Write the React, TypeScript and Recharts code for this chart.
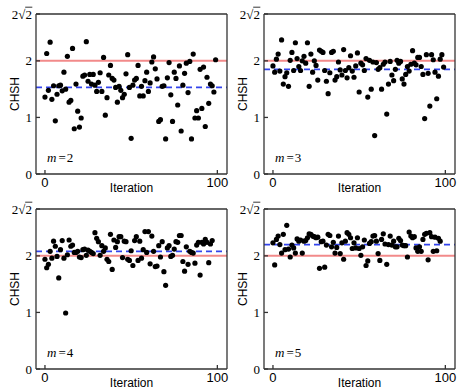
import React from "react"
import { ReferenceLine, Scatter, ScatterChart, XAxis, YAxis } from "recharts"

// CHSH value per iteration, one array per m
const chshM2 = [
  1.36, 2.13, 1.48, 2.33, 1.32, 1.56, 0.94, 1.41, 1.56, 1.57,
  1.47, 1.8, 1.5, 2.08, 1.27, 1.3, 2.22, 0.8, 1.59, 1.11,
  0.83, 0.99, 1.73, 1.75, 2.34, 1.64, 1.76, 1.59, 1.76, 1.57,
  1.46, 1.62, 1.79, 1.46, 2.06, 1.04, 1.35, 1.75, 1.92, 1.69,
  1.66, 1.53, 1.27, 1.55, 1.48, 1.35, 1.41, 1.77, 2.11, 1.53,
  0.63, 1.57, 1.66, 1.69, 1.92, 1.38, 1.55, 1.38, 1.65, 1.8,
  1.46, 1.61, 1.98, 2.07, 1.86, 1.68, 0.93, 0.96, 1.55, 1.56,
  0.62, 1.7, 1.97, 1.4, 0.93, 1.8, 1.69, 1.22, 1.91, 0.76,
  1.57, 1.78, 1.96, 1.44, 1.99, 0.62, 2.12, 0.99, 1.12, 0.99,
  1.85, 1.16, 1.89, 0.84, 1.71, 1.25, 1.59, 1.56, 1.45, 2.02,
]

const chshM3 = [
  1.91, 1.8, 2.03, 2.12, 1.82, 2.37, 1.59, 1.72, 1.79, 1.55,
  2.01, 2.15, 1.83, 2.32, 2.04, 1.9, 1.83, 2.0, 2.08, 1.96,
  2.32, 1.55, 2.12, 1.8, 2.0, 1.92, 1.66, 2.19, 2.17, 2.15,
  1.83, 1.64, 1.42, 1.79, 2.15, 2.17, 1.66, 1.72, 1.98, 1.84,
  1.75, 2.2, 1.83, 1.7, 1.88, 2.09, 1.82, 1.71, 1.91, 2.14,
  1.45, 1.96, 1.93, 1.83, 2.04, 1.36, 2.01, 1.5, 1.98, 0.68,
  1.97, 1.85, 1.88, 1.5, 1.94, 1.98, 1.06, 1.59, 1.99, 1.75,
  1.65, 1.85, 2.01, 1.96, 1.99, 1.68, 1.59, 1.76, 1.9, 1.82,
  1.94, 2.18, 1.96, 1.93, 2.06, 2.06, 1.9, 1.76, 0.98, 2.11,
  1.78, 1.2, 2.11, 2.02, 1.8, 1.33, 1.73, 2.03, 2.11, 1.89,
]

const chshM4 = [
  1.94, 1.79, 1.85, 2.08, 1.96, 2.26, 2.17, 1.99, 1.61, 2.11,
  2.27, 1.96, 0.99, 2.02, 2.28, 2.17, 2.19, 2.06, 2.06, 2.08,
  1.98, 1.97, 2.11, 2.12, 2.01, 2.1, 2.08, 2.06, 2.04, 2.41,
  2.31, 2.25, 2.01, 2.18, 2.08, 2.14, 1.94, 1.9, 2.38, 1.76,
  2.28, 2.15, 2.25, 2.34, 2.34, 1.97, 2.26, 2.25, 1.94, 1.92,
  2.09, 1.83, 2.27, 2.34, 1.92, 2.26, 1.96, 2.11, 2.43, 2.06,
  2.43, 1.86, 2.35, 2.08, 1.81, 1.82, 2.18, 1.98, 2.25, 1.72,
  1.48, 2.14, 2.18, 1.99, 2.01, 2.12, 2.25, 2.24, 2.36, 2.36,
  1.9, 1.73, 2.16, 1.85, 2.08, 2.06, 2.05, 1.87, 2.19, 2.24,
  1.66, 2.24, 2.21, 2.29, 2.24, 1.88, 2.21, 2.27,
]

const chshM5 = [
  2.23, 1.84, 2.29, 2.35, 2.2, 2.05, 2.38, 2.11, 2.54, 2.12,
  1.98, 2.19, 2.14, 2.05, 2.3, 2.26, 2.28, 2.05, 2.26, 2.27,
  2.32, 2.39, 2.38, 2.35, 2.34, 2.32, 2.33, 1.78, 2.25, 2.26,
  1.8, 2.19, 2.38, 2.36, 2.16, 2.24, 2.05, 2.15, 2.35, 2.04,
  2.23, 1.94, 2.26, 2.41, 2.38, 2.32, 2.13, 2.23, 2.14, 2.32,
  2.13, 2.01, 2.16, 2.28, 1.83, 1.91, 2.22, 2.25, 2.35, 2.36,
  2.26, 2.04, 1.92, 2.29, 2.39, 2.21, 1.85, 2.2, 2.35, 2.19,
  2.26, 2.16, 2.16, 2.31, 2.27, 2.19, 2.18, 2.18, 1.98, 2.42,
  2.35, 2.32, 2.34, 2.14, 2.08, 2.16, 2.08, 2.29, 2.38, 2.4,
  1.93, 2.41, 2.34, 2.08, 2.33, 2.09, 2.31, 2.26,
]

const series = [chshM2, chshM3, chshM4, chshM5]
const mValues = [2, 3, 4, 5]
const meanValues = [1.53, 1.85, 2.08, 2.2]
const classicalBound = 2
const quantumBound = 2 * Math.SQRT2
const xTicks = [0, 100]
const yTicks = [0, 1, 2, quantumBound]

const W = 231
const H = 193
const positions = [
  { left: 0, top: 0 },
  { left: 228, top: 0 },
  { left: 0, top: 195 },
  { left: 228, top: 195 },
]

const sans = "'Liberation Sans', Arial, sans-serif"
const serif = "'Liberation Serif', 'Times New Roman', serif"
const frame = { stroke: "#333", strokeWidth: 1.3 }

function YTick(props: any) {
  const { x, y, payload } = props
  const isRoot = Math.abs(payload.value - quantumBound) < 1e-6
  if (isRoot) {
    return (
      <g>
        <text x={x} y={y} textAnchor="end" dominantBaseline="central" fontFamily={serif} fontSize={13} fill="#000">
          2√2
        </text>
        <line x1={x - 6.8} x2={x + 0.3} y1={y - 6.8} y2={y - 6.8} stroke="#000" strokeWidth={0.8} />
      </g>
    )
  }
  return (
    <text x={x} y={y} textAnchor="end" dominantBaseline="central" fontFamily={serif} fontSize={13} fill="#000">
      {payload.value}
    </text>
  )
}

function XTitle(props: any) {
  const { x, y, width } = props.viewBox
  return (
    <text x={x + width / 2} y={y + 17.5} textAnchor="middle" fontFamily={sans} fontSize={12} fill="#000">
      Iteration
    </text>
  )
}

function YTitle(props: any) {
  const { y, height } = props.viewBox
  const cx = 15
  const cy = y + height / 2
  return (
    <text
      x={cx}
      y={cy}
      textAnchor="middle"
      dominantBaseline="central"
      transform={`rotate(-90, ${cx}, ${cy})`}
      fontFamily={sans}
      fontSize={12}
      fill="#000"
    >
      CHSH
    </text>
  )
}

const Dot = (p: any) => <circle cx={p.cx} cy={p.cy} r={2.6} fill="#000" />

function Panel({ values, mean, m, left, top }: any) {
  const points = values.map((v: number, i: number) => ({ iteration: i, chsh: v }))
  return (
    <div style={{ position: "absolute", left, top, width: W, height: H }}>
      <ScatterChart width={W} height={H} margin={{ top: 0, right: 0, bottom: 0, left: 0 }}>
        <XAxis
          xAxisId="b"
          dataKey="iteration"
          type="number"
          domain={[-5.2, 105.6]}
          allowDataOverflow
          ticks={xTicks}
          height={19}
          tickSize={-4}
          tickMargin={8}
          axisLine={frame}
          tickLine={frame}
          tick={{ fontSize: 13, fontFamily: sans, fill: "#000" }}
          label={XTitle}
        />
        <XAxis
          xAxisId="t"
          orientation="top"
          type="number"
          domain={[-5.2, 105.6]}
          allowDataOverflow
          ticks={xTicks}
          height={14}
          tickSize={-4}
          axisLine={frame}
          tickLine={frame}
          tick={false}
        />
        <YAxis
          yAxisId="l"
          dataKey="chsh"
          type="number"
          domain={[0, quantumBound]}
          allowDataOverflow
          ticks={yTicks}
          width={36}
          tickSize={-4}
          tickMargin={8}
          axisLine={frame}
          tickLine={frame}
          tick={<YTick />}
          label={YTitle}
        />
        <YAxis
          yAxisId="r"
          orientation="right"
          type="number"
          domain={[0, quantumBound]}
          allowDataOverflow
          ticks={yTicks}
          width={4}
          tickSize={-4}
          axisLine={frame}
          tickLine={frame}
          tick={false}
        />
        <ReferenceLine xAxisId="b" yAxisId="l" y={classicalBound} stroke="#f28a8a" strokeWidth={2} />
        <ReferenceLine xAxisId="b" yAxisId="l" y={mean} stroke="#3344ec" strokeWidth={1.7} strokeDasharray="6 4" />
        <Scatter xAxisId="b" yAxisId="l" data={points} shape={Dot} isAnimationActive={false} />
      </ScatterChart>
      <div
        style={{
          position: "absolute",
          left: 47,
          top: 150,
          fontFamily: serif,
          fontSize: 13,
          lineHeight: "16px",
          whiteSpace: "nowrap",
        }}
      >
        <i>m</i>
        <span style={{ marginLeft: 2 }}>=</span>
        <span style={{ marginLeft: 1 }}>{m}</span>
      </div>
    </div>
  )
}

export default function App() {
  return (
    <div style={{ position: "absolute", left: 0, top: 0, width: 463, height: 388, background: "#fff", overflow: "hidden" }}>
      {series.map((values, i) => (
        <Panel
          key={mValues[i]}
          values={values}
          mean={meanValues[i]}
          m={mValues[i]}
          left={positions[i].left}
          top={positions[i].top}
        />
      ))}
    </div>
  )
}
